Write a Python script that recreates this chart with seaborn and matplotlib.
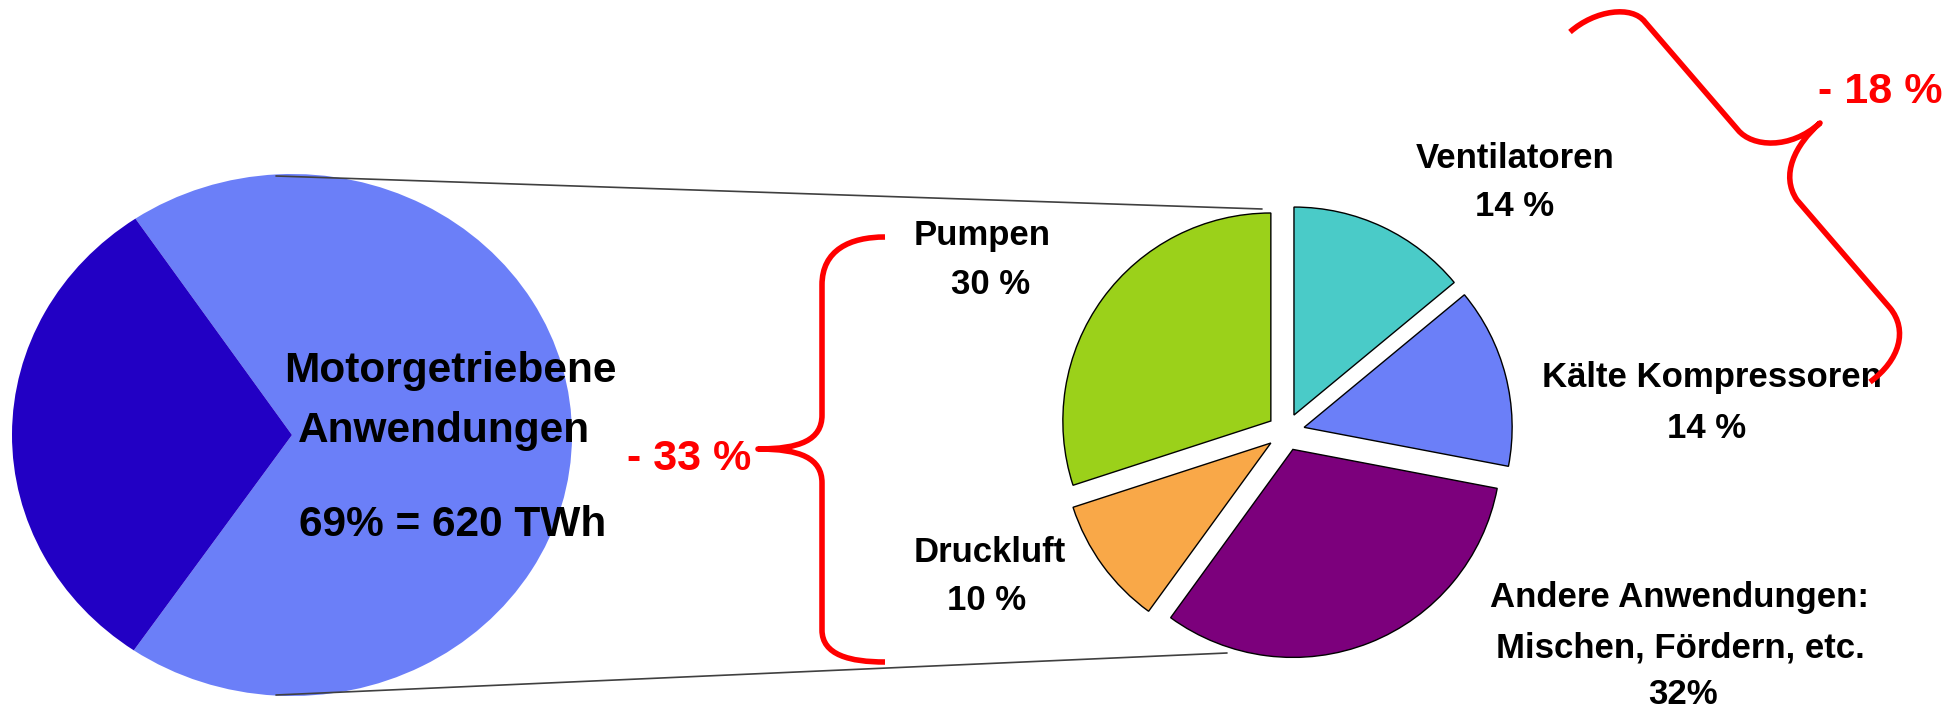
import matplotlib
matplotlib.use("Agg")
import matplotlib.pyplot as plt
from matplotlib.path import Path
from matplotlib.patches import PathPatch
import seaborn as sns

W, H = 1958, 711

# ---- data ----
main_values = [69, 31]
main_colors = ["#6B7FF8", "#2200C4"]
main_title = ["Motorgetriebene", "Anwendungen"]
main_note = "69% = 620 TWh"

sub_labels = ["Ventilatoren", "Kälte Kompressoren",
              "Andere Anwendungen:\nMischen, Fördern, etc.", "Druckluft", "Pumpen"]
sub_values = [14, 14, 32, 10, 30]
sub_pct_text = ["14 %", "14 %", "32%", "10 %", "30 %"]
sub_colors = ["#4ACBC8", "#6B7FF8", "#7C007C", "#F9A848", "#9BD11A"]

savings = ["- 33 %", "- 18 %"]

# ---- style ----
sns.set_theme(style="white")
plt.rcParams["font.family"] = ["Liberation Sans", "DejaVu Sans"]

fig = plt.figure(figsize=(W / 100, H / 100), dpi=100)
fig.patch.set_facecolor("white")


def box(cx, cy, hw, hh):
    return [(cx - hw) / W, (H - (cy + hh)) / H, 2 * hw / W, 2 * hh / H]


# left pie (slightly elliptical)
rx, ry = 280, 261
axL = fig.add_axes(box(292, 435, rx + 10, ry + 10), zorder=1)
axL.pie(main_values, colors=main_colors, startangle=-124.4, counterclock=True,
        radius=1, wedgeprops=dict(linewidth=0),
        shadow=dict(ox=1.8, oy=-1.8, shade=1.0, alpha=1))
axL.set_xlim(-(rx + 10) / rx, (rx + 10) / rx)
axL.set_ylim(-(ry + 10) / ry, (ry + 10) / ry)
axL.set_aspect("auto")
axL.axis("off")

# right exploded pie
R = 208
half = 245
axR = fig.add_axes(box(1286, 432, half, half), zorder=1)
axR.pie(sub_values, colors=sub_colors, startangle=90, counterclock=False,
        explode=[0.09] * len(sub_values),
        wedgeprops=dict(edgecolor="black", linewidth=1.0),
        shadow=dict(ox=2.4, oy=-2.4, shade=1.0, alpha=1))
axR.set_xlim(-half / R, half / R)
axR.set_ylim(-half / R, half / R)
axR.set_aspect("auto")
axR.axis("off")

# foreground axes: connectors, texts and braces
ax = fig.add_axes([0, 0, 1, 1], zorder=2)
ax.set_xlim(0, W)
ax.set_ylim(H, 0)
ax.axis("off")
ax.patch.set_alpha(0)

ax.plot([276, 1262], [176, 209], color="#404040", lw=1.2, zorder=1)
ax.plot([276, 1227], [695, 653], color="#404040", lw=1.2, zorder=1)

big = 30.5
lab = 25
txt = dict(ha="center", va="center", fontweight="bold", color="black", zorder=3)

ax.text(450, 371, main_title[0], fontsize=big, **txt)
ax.text(444, 431, main_title[1], fontsize=big, **txt)
ax.text(453, 525, main_note, fontsize=big, **txt)

label_pos = [(1515, 159), (1712, 378), (1680, 598), (990, 552), (982, 236)]
pct_pos = [(1515, 206), (1707, 428), (1683, 695), (987, 600), (991, 285)]
for name, pct, (lx, ly), (px, py) in zip(sub_labels, sub_pct_text, label_pos, pct_pos):
    lines = name.split("\n")
    for i, line in enumerate(lines):
        ax.text(lx, ly + i * 50, line, fontsize=lab, **txt)
    ax.text(px, py, pct, fontsize=lab, **txt)

red = "#FF0000"
ax.text(689, 459, savings[0], fontsize=31, ha="center", va="center",
        fontweight="bold", color=red, zorder=3)
ax.text(1880, 92, savings[1], fontsize=31, ha="center", va="center",
        fontweight="bold", color=red, zorder=3)

# braces
M, L, C = Path.MOVETO, Path.LINETO, Path.CURVE4
left_brace = Path(
    [(885, 237), (850, 237), (822, 250), (822, 285),
     (822, 415),
     (822, 440), (800, 449), (758, 449),
     (800, 449), (822, 458), (822, 483),
     (822, 630),
     (822, 655), (850, 662), (885, 662)],
    [M, C, C, C, L, C, C, C, C, C, C, L, C, C, C])
right_brace = Path(
    [(1570, 32), (1595, 10), (1632, 5), (1645, 22),
     (1738, 130),
     (1752, 147), (1790, 150), (1820, 123),
     (1795, 145), (1780, 175), (1797, 200),
     (1890, 308),
     (1908, 330), (1900, 360), (1870, 382)],
    [M, C, C, C, L, C, C, C, C, C, C, L, C, C, C])
for p in (left_brace, right_brace):
    ax.add_patch(PathPatch(p, facecolor="none", edgecolor=red, lw=4,
                           capstyle="butt", joinstyle="round", zorder=4))

fig.savefig("out.png", dpi=100, facecolor="white")
